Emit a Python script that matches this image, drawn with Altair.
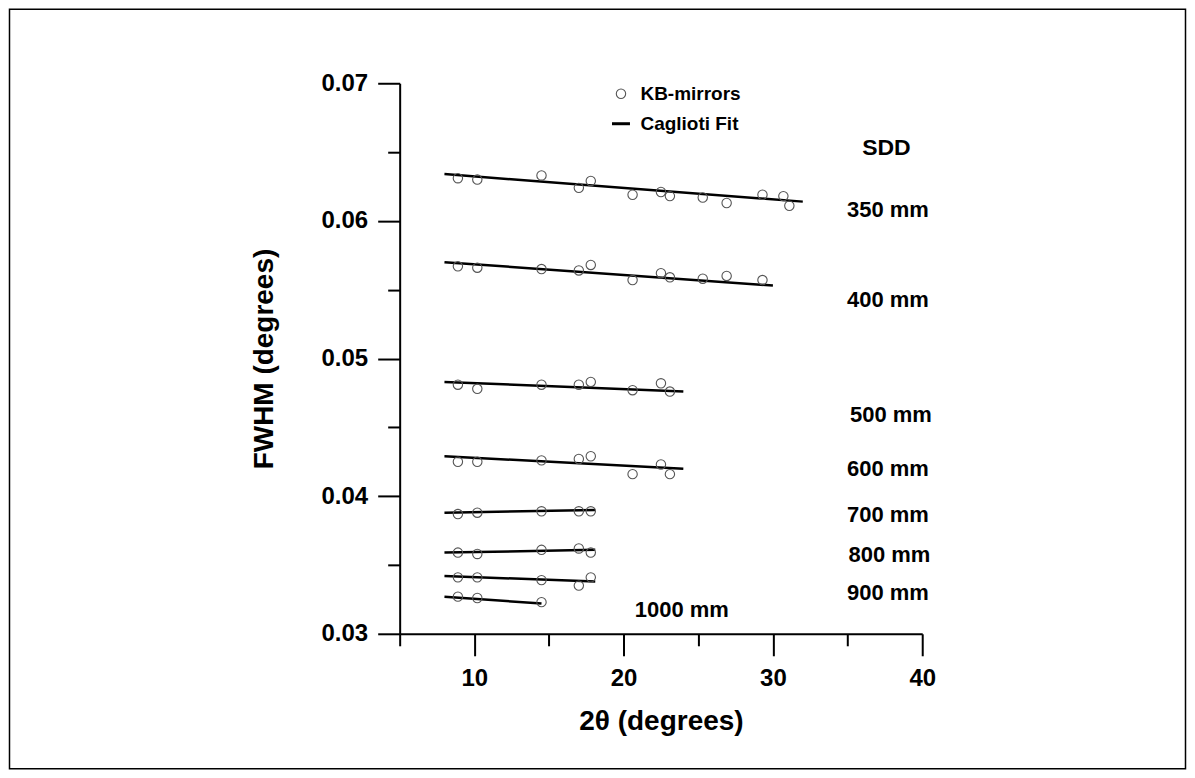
import altair as alt
import pandas as pd

FONT = "Liberation Sans"

# ---- data ----
sdd_names = ["350 mm", "400 mm", "500 mm", "600 mm", "700 mm", "800 mm", "900 mm", "1000 mm"]

tt_350 = [8.9, 10.2, 14.5, 17.0, 17.8, 20.6, 22.5, 23.1, 25.3, 26.9, 29.3, 30.7, 31.1]
fwhm_350 = [0.0631, 0.0630, 0.0633, 0.0624, 0.0629, 0.0619, 0.0621, 0.0618, 0.0617, 0.0613, 0.0619, 0.0618, 0.0611]

tt_400 = [8.9, 10.2, 14.5, 17.0, 17.8, 20.6, 22.5, 23.1, 25.3, 26.9, 29.3]
fwhm_400 = [0.0567, 0.0566, 0.0565, 0.0564, 0.0568, 0.0557, 0.0562, 0.0559, 0.0558, 0.0560, 0.0557]

tt_500 = [8.9, 10.2, 14.5, 17.0, 17.8, 20.6, 22.5, 23.1]
fwhm_500 = [0.0481, 0.0478, 0.0481, 0.0481, 0.0483, 0.0477, 0.0482, 0.0476]

tt_600 = [8.9, 10.2, 14.5, 17.0, 17.8, 20.6, 22.5, 23.1]
fwhm_600 = [0.0425, 0.0425, 0.0426, 0.0427, 0.0429, 0.0416, 0.0423, 0.0416]

tt_700 = [8.9, 10.2, 14.5, 17.0, 17.8]
fwhm_700 = [0.0387, 0.0388, 0.0389, 0.0389, 0.0389]

tt_800 = [8.9, 10.2, 14.5, 17.0, 17.8]
fwhm_800 = [0.0359, 0.0358, 0.0361, 0.0362, 0.0359]

tt_900 = [8.9, 10.2, 14.5, 17.0, 17.8]
fwhm_900 = [0.0341, 0.0341, 0.0339, 0.0335, 0.0341]

tt_1000 = [8.9, 10.2, 14.5]
fwhm_1000 = [0.0327, 0.0326, 0.0323]

# Caglioti fit lines: start / end 2theta and FWHM
fit_tt_start = [8, 8, 8, 8, 8, 8, 8, 8]
fit_tt_end = [32, 30, 24, 24, 18.1, 18.1, 18.1, 14.5]
fit_fwhm_start = [0.0634, 0.0570, 0.0483, 0.0429, 0.0388, 0.0359, 0.0342, 0.0327]
fit_fwhm_end = [0.0614, 0.0553, 0.0476, 0.0420, 0.0390, 0.0361, 0.0338, 0.0322]

# SDD annotation labels
label_text = ["350 mm", "400 mm", "500 mm", "600 mm", "700 mm", "800 mm", "900 mm", "1000 mm"]
label_x = [37.7, 37.7, 37.9, 37.7, 37.7, 37.8, 37.7, 23.9]
label_y = [0.0608, 0.05425, 0.0459, 0.0420, 0.03864, 0.03574, 0.03295, 0.0317]
header_text = ["SDD"]
header_x = [37.6]
header_y = [0.06526]

legend_kinds = ["KB-mirrors", "Caglioti Fit"]

# ---- tables ----
series_tt = [tt_350, tt_400, tt_500, tt_600, tt_700, tt_800, tt_900, tt_1000]
series_fw = [fwhm_350, fwhm_400, fwhm_500, fwhm_600, fwhm_700, fwhm_800, fwhm_900, fwhm_1000]
rows = []
for name, xs, ys in zip(sdd_names, series_tt, series_fw):
    for xv, yv in zip(xs, ys):
        rows.append({"sdd": name, "two_theta": xv, "fwhm": yv, "kind": legend_kinds[0]})
pts_df = pd.DataFrame(rows)

fit_rows = []
for name, x0, x1, y0, y1 in zip(sdd_names, fit_tt_start, fit_tt_end, fit_fwhm_start, fit_fwhm_end):
    fit_rows.append({"sdd": name, "two_theta": x0, "fwhm": y0})
    fit_rows.append({"sdd": name, "two_theta": x1, "fwhm": y1})
fit_df = pd.DataFrame(fit_rows)

lab_df = pd.DataFrame({"text": label_text, "two_theta": label_x, "fwhm": label_y})
head_df = pd.DataFrame({"text": header_text, "two_theta": header_x, "fwhm": header_y})

common_axis = dict(
    domainColor="black", domainWidth=2, tickColor="black", tickWidth=2,
    labelFont=FONT, labelFontSize=24, labelFontWeight="bold", labelColor="black",
    titleFont=FONT, titleFontSize=28, titleFontWeight="bold", titleColor="black",
    grid=False,
)

x_enc = alt.X(
    "two_theta:Q",
    scale=alt.Scale(domain=[5, 40], nice=False, zero=False),
    axis=alt.Axis(
        values=[5, 10, 15, 20, 25, 30, 35, 40],
        labelExpr="datum.value % 10 === 0 ? datum.label : ''",
        tickSize={"condition": {"test": "datum.value % 10 === 0", "value": 22}, "value": 12},
        labelPadding=11, titlePadding=17, labelFlush=False,
        **common_axis,
    ),
    title="2θ (degrees)",
)
y_enc = alt.Y(
    "fwhm:Q",
    scale=alt.Scale(domain=[0.03, 0.07], nice=False, zero=False),
    axis=alt.Axis(
        values=[0.03, 0.035, 0.04, 0.045, 0.05, 0.055, 0.06, 0.065, 0.07],
        labelExpr="round(datum.value * 200) % 2 === 0 ? format(datum.value, '.2f') : ''",
        tickSize={"condition": {"test": "round(datum.value * 200) % 2 === 0", "value": 22}, "value": 12},
        labelPadding=10, titlePadding=43, labelFlush=False,
        **common_axis,
    ),
    title="FWHM (degrees)",
)

fit = alt.Chart(fit_df).mark_line(color="black", strokeWidth=2.5).encode(
    x=x_enc, y=y_enc, detail="sdd:N"
)

legend = alt.Legend(
    orient="none", legendX=211, legendY=1, title=None, padding=0,
    labelFont=FONT, labelFontSize=19, labelFontWeight="bold", labelColor="black",
    labelOffset=9, rowPadding=9, symbolFillColor="transparent", symbolOpacity=1,
)

pts = alt.Chart(pts_df).mark_point(filled=False, opacity=1).encode(
    x=x_enc, y=y_enc,
    shape=alt.Shape("kind:O", scale=alt.Scale(domain=legend_kinds, range=["circle", "stroke"]), legend=legend),
    color=alt.Color("kind:O", scale=alt.Scale(domain=legend_kinds, range=["#555555", "#000000"]), legend=legend),
    size=alt.Size("kind:O", scale=alt.Scale(domain=legend_kinds, range=[88, 324]), legend=legend),
    strokeWidth=alt.StrokeWidth("kind:O", scale=alt.Scale(domain=legend_kinds, range=[1.1, 3]), legend=legend),
)

labels = alt.Chart(lab_df).mark_text(
    font=FONT, fontSize=22, fontWeight="bold", color="black", align="center", baseline="middle"
).encode(x=x_enc, y=y_enc, text="text:N")

header = alt.Chart(head_df).mark_text(
    font=FONT, fontSize=23, fontWeight="bold", color="black", align="center", baseline="middle"
).encode(x=x_enc, y=y_enc, text="text:N")

frame = alt.Chart(pd.DataFrame({"a": [0]})).mark_rect(
    fillOpacity=0, stroke="black", strokeWidth=1.5
).encode(
    x=alt.value(-390.5), x2=alt.value(786.5), y=alt.value(-74), y2=alt.value(686)
)

chart = alt.layer(frame, fit, pts, labels, header).properties(
    width=523, height=551, padding=0, background="white"
).configure_view(stroke=None)

chart.save("out.html", embed_options={"renderer": "svg", "actions": False})
